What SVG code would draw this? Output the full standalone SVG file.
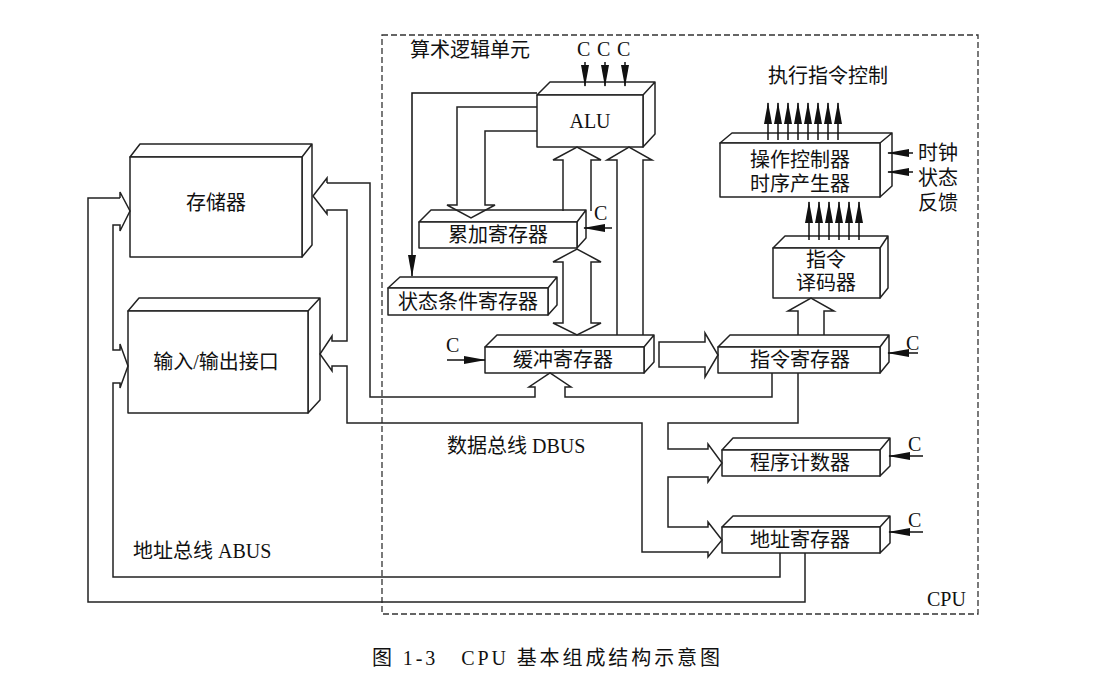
<svg xmlns="http://www.w3.org/2000/svg" width="1094" height="684" viewBox="0 0 1094 684">
<defs>
<marker id="ah2" markerWidth="22" markerHeight="8" refX="21" refY="4" orient="auto" markerUnits="userSpaceOnUse" viewBox="0 0 22 8"><path d="M0,0 L22,4 L0,8 Z" fill="#111"/></marker>
</defs>
<style>
.b{fill:#fff;stroke:#222;stroke-width:1.5;stroke-linejoin:round}
.w{fill:none;stroke:#222;stroke-width:1.5;stroke-linejoin:miter}
.t{font-family:"Liberation Serif","Noto Sans CJK SC",serif;font-size:20px;fill:#111}
.m{text-anchor:middle}
.th{fill:none;stroke:#111;stroke-width:1.5}
</style>
<rect x="382" y="35" width="596" height="579" fill="none" stroke="#333" stroke-width="1.3" stroke-dasharray="6,3"/>

<g id="mem"><path class="b" d="M130,157 L140,144 L312,144 L302,157 Z M302,157 L312,144 L312,245 L302,257 Z"/><rect class="b" x="130" y="157" width="172" height="100"/><text class="t m" x="216" y="210">存储器</text></g>
<g id="io"><path class="b" d="M128,311 L139,298 L320,298 L308,311 Z M308,311 L320,298 L320,400 L308,413 Z"/><rect class="b" x="128" y="311" width="180" height="102"/><text class="t m" x="216" y="369">输入/输出接口</text></g>
<g id="alu"><path class="b" d="M537,95 L550,82 L655,82 L643,95 Z M643,95 L655,82 L655,134 L643,147 Z"/><rect class="b" x="537" y="95" width="106" height="52"/><text class="t m" x="590" y="128">ALU</text></g>
<g id="acc"><path class="b" d="M419,222 L431,210 L586,210 L577,222 Z M577,222 L586,210 L586,238 L577,248 Z"/><rect class="b" x="419" y="222" width="158" height="26"/><text class="t m" x="498" y="242">累加寄存器</text></g>
<g id="psw"><path class="b" d="M388,288 L400,277 L557,277 L548,288 Z M548,288 L557,277 L557,305 L548,315 Z"/><rect class="b" x="388" y="288" width="160" height="27"/><text class="t m" x="468" y="309">状态条件寄存器</text></g>
<g id="buf"><path class="b" d="M485,347 L497,335 L654,335 L644,347 Z M644,347 L654,335 L654,362 L644,373 Z"/><rect class="b" x="485" y="347" width="159" height="26"/><text class="t m" x="563" y="367">缓冲寄存器</text></g>
<g id="ir"><path class="b" d="M718,347 L730,335 L889,335 L880,347 Z M880,347 L889,335 L889,362 L880,373 Z"/><rect class="b" x="718" y="347" width="162" height="26"/><text class="t m" x="800" y="367">指令寄存器</text></g>
<g id="ctl"><path class="b" d="M720,143 L732,133 L892,133 L880,143 Z M880,143 L892,133 L892,186 L880,197 Z"/><rect class="b" x="720" y="143" width="160" height="54"/><text class="t m" x="800" y="167" font-size="18">操作控制器</text><text class="t m" x="800" y="191" font-size="18">时序产生器</text></g>
<g id="dec"><path class="b" d="M773,248 L785,236 L888,236 L880,248 Z M880,248 L888,236 L888,288 L880,298 Z"/><rect class="b" x="773" y="248" width="107" height="50"/><text class="t m" x="826" y="267" font-size="18">指令</text><text class="t m" x="826" y="290" font-size="18">译码器</text></g>
<g id="pc"><path class="b" d="M722,450 L733,438 L890,438 L880,450 Z M880,450 L890,438 L890,466 L880,476 Z"/><rect class="b" x="722" y="450" width="158" height="26"/><text class="t m" x="800" y="470">程序计数器</text></g>
<g id="ar"><path class="b" d="M722,527 L733,516 L890,516 L880,527 Z M880,527 L890,516 L890,543 L880,553 Z"/><rect class="b" x="722" y="527" width="158" height="26"/><text class="t m" x="800" y="547">地址寄存器</text></g>

<g id="connectors">
<path class="w" d="M537,107 L457,107 L457,205 L447,205 L471,218 L495,205 L485,205 L485,131 L537,131"/>
<path class="th" d="M537,93 L412,93 L412,276" marker-end="url(#ah2)"/>
<path class="w" d="M563,211 L563,160 L553,160 L577,147 L601,160 L591,160 L591,211"/>
<path class="w" d="M563,262 L553,262 L577,249 L601,262 L591,262 L591,323 L601,323 L577,335 L553,323 L563,323 Z"/>
<path class="w" d="M617,335 L617,160 L607,160 L629,147 L652,160 L643,160 L643,335"/>
<path class="w" d="M705,342 L659,342 L659,367 L705,367 L705,377 L718,355 L705,333 Z"/>
<path class="w" d="M798,335 L798,311 L788,311 L811,298 L834,311 L824,311 L824,335"/>
<g class="th">
<path d="M768,140 V103" marker-end="url(#ah2)"/><path d="M778,140 V103" marker-end="url(#ah2)"/><path d="M788,140 V103" marker-end="url(#ah2)"/><path d="M798,140 V103" marker-end="url(#ah2)"/><path d="M808,140 V103" marker-end="url(#ah2)"/><path d="M818,140 V103" marker-end="url(#ah2)"/><path d="M828,140 V103" marker-end="url(#ah2)"/><path d="M838,140 V103" marker-end="url(#ah2)"/>
<path d="M809,240 V202" marker-end="url(#ah2)"/><path d="M819,240 V202" marker-end="url(#ah2)"/><path d="M829,240 V202" marker-end="url(#ah2)"/><path d="M839,240 V202" marker-end="url(#ah2)"/><path d="M849,240 V202" marker-end="url(#ah2)"/><path d="M859,240 V202" marker-end="url(#ah2)"/>
<path d="M913,153 H888" marker-end="url(#ah2)"/><path d="M913,172 H888" marker-end="url(#ah2)"/>
<path d="M585,62 V86" marker-end="url(#ah2)"/><path d="M605,62 V86" marker-end="url(#ah2)"/><path d="M625,62 V86" marker-end="url(#ah2)"/>
<path d="M612,228 H584" marker-end="url(#ah2)"/>
<path d="M447,360 H485" marker-end="url(#ah2)"/>
<path d="M918,353 H888" marker-end="url(#ah2)"/>
<path d="M923,456 H889" marker-end="url(#ah2)"/>
<path d="M923,532 H889" marker-end="url(#ah2)"/>
</g>
<path class="w" d="M327,183 L327,178 L313,196 L327,214 L327,210 L347,210 L347,341 L332,341 L332,336 L320,354 L332,371 L332,366 L347,366 L347,423 L642,423 L642,552 L708,552 L708,557 L722,540 L708,522 L708,527 L668,527 L668,477 L708,477 L708,482 L722,463 L708,444 L708,449 L668,449 L668,423 L798,423 L798,373"/>
<path class="w" d="M327,183 L370,183 L370,397 L535,397 L535,387 L529,387 L550,373 L571,387 L565,387 L565,397 L772,397 L772,373"/>
<path class="w" d="M120,198 L120,192 L130,211 L120,231 L120,225 L113,225 L113,350 L120,350 L120,344 L128,366 L120,388 L120,383 L113,383 L113,577 L780,577 L780,553"/>
<path class="w" d="M120,198 L88,198 L88,602 L805,602 L805,553"/>
</g>

<g id="labels">
<text class="t" x="410" y="57" font-size="19">算术逻辑单元</text>
<text class="t" x="577" y="56">C</text><text class="t" x="597" y="56">C</text><text class="t" x="617" y="56">C</text>
<text class="t" x="594" y="220">C</text>
<text class="t" x="446" y="352">C</text>
<text class="t" x="906" y="350">C</text>
<text class="t" x="908" y="451">C</text>
<text class="t" x="908" y="527">C</text>
<text class="t" x="768" y="83" font-size="19">执行指令控制</text>
<text class="t" x="918" y="160" font-size="18">时钟</text>
<text class="t" x="918" y="185" font-size="18">状态</text>
<text class="t" x="918" y="210" font-size="18">反馈</text>
<text class="t" x="447" y="453" font-size="19">数据总线 DBUS</text>
<text class="t" x="133" y="558" font-size="19">地址总线 ABUS</text>
<text class="t" x="927" y="606" font-size="19">CPU</text>
<text class="t" x="372" y="665" font-size="23" textLength="348" lengthAdjust="spacing">图 1-3　CPU 基本组成结构示意图</text>
</g>
</svg>
